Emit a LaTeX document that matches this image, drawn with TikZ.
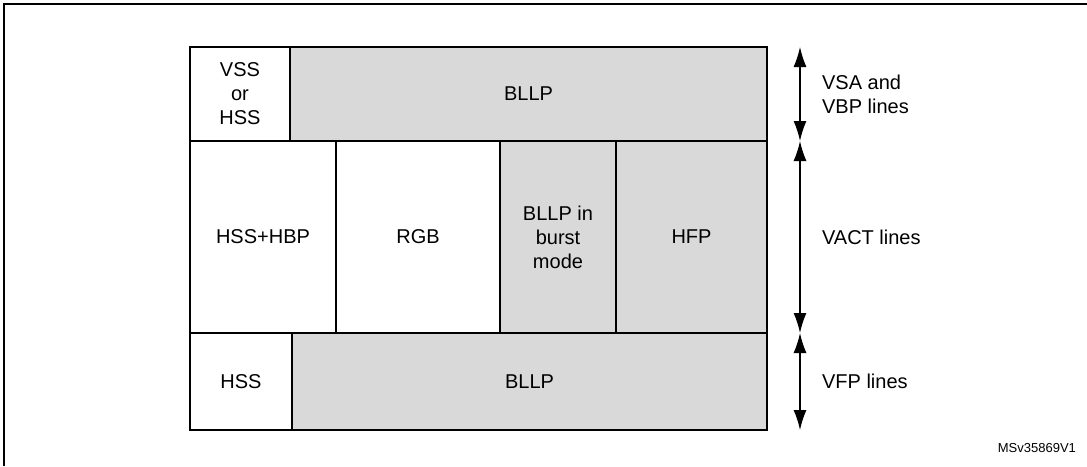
\documentclass[tikz,border=0pt]{standalone}
\usepackage{fontspec}
\setmainfont{Liberation Sans}
\usetikzlibrary{arrows.meta,positioning}
\tikzset{
  cell/.style={draw,line width=0.9pt,inner sep=0pt,align=center,font=\fontsize{10}{12}\selectfont},
  blank/.style={cell,fill=white},
  grey/.style={cell,fill=black!15},
  span/.style={{Latex[length=10pt,width=6.5pt]}-{Latex[length=10pt,width=6.5pt]},line width=0.7pt},
  lbl/.style={anchor=west,align=left,font=\fontsize{10}{12}\selectfont}
}
\begin{document}
\begin{tikzpicture}[x=0.5pt,y=-0.5pt]
\useasboundingbox (0,0) rectangle (1087,466);
\draw[line width=1pt] (4,466) -- (4,4) -- (1087,4);

% top row
\node[blank,minimum width=50pt,minimum height=47pt] (vss) at (240,94) {VSS\\or\\HSS};
\node[grey,minimum width=238.5pt,minimum height=47pt] (bllpa) at (528.5,94) {BLLP};
% active lines
\node[blank,minimum width=73pt,minimum height=96pt] (hss) at (263,237) {HSS+HBP};
\node[blank,minimum width=82pt,minimum height=96pt] (rgb) at (418,237) {RGB};
\node[grey,minimum width=58pt,minimum height=96pt] (burst) at (558,237) {BLLP in\\burst\\mode};
\node[grey,minimum width=75.5pt,minimum height=96pt] (hfp) at (691.5,237) {HFP};
% bottom row
\node[blank,minimum width=51pt,minimum height=48.5pt] (hsb) at (241,381.5) {HSS};
\node[grey,minimum width=237.5pt,minimum height=48.5pt] (bllpb) at (529.5,381.5) {BLLP};

\coordinate (a0) at (800,47);
\coordinate (a1) at (800,141);
\coordinate (a2) at (800,333);
\coordinate (a3) at (800,430);
\draw[span] (a0) -- (a1);
\draw[span] (a1) -- (a2);
\draw[span] (a2) -- (a3);
\node[lbl] (vsa) at (815,94) {VSA and\\VBP lines};
\node[lbl] (vact) at (815,237) {VACT lines};
\node[lbl] (vfp) at (815,381.5) {VFP lines};
\node[anchor=east,font=\fontsize{6.5}{7}\selectfont] (id) at (1083,448) {MSv35869V1};
\end{tikzpicture}
\end{document}
